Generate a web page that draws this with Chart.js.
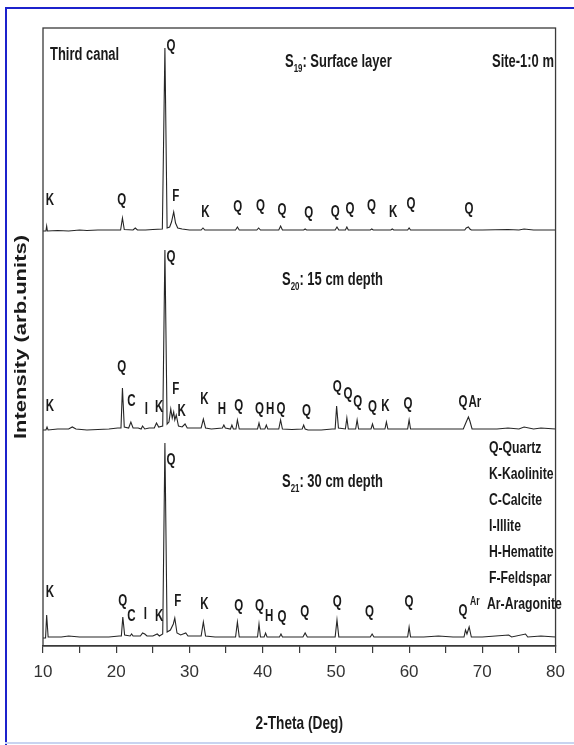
<!DOCTYPE html>
<html>
<head>
<meta charset="utf-8">
<script src="https://cdn.jsdelivr.net/npm/chart.js@4"></script>
<style>
  body { margin: 0; background: #fff; }
  #wrap { width: 574px; height: 745px; position: relative; }
</style>
</head>
<body>
<div id="wrap"><canvas id="myChart"></canvas></div>
<script>
// 2-theta (deg) and intensity (arb.) for each sample
var s19Theta = [10, 10.4, 10.5, 10.6, 12, 13.5, 15, 16, 17.5, 19, 20.6, 20.85, 21.1, 22.3, 22.6, 22.9, 24, 25, 26.3, 26.65, 26.95,
    27.3, 27.55, 27.85, 28.1, 28.4, 29, 30, 31.6, 31.85, 32.1, 34, 35, 36.3, 36.55, 36.8, 37, 39.2, 39.45, 39.7, 40.3,
    42.2, 42.45, 42.7, 44, 45.6, 45.8, 46, 48, 49.9, 50.15, 50.4, 50.9, 51.3, 51.5, 51.7, 53, 54.7, 54.9, 55.1,
    57.5, 57.7, 57.9, 59.8, 60, 60.2, 64, 66, 67.6, 67.8, 68.1, 68.3, 68.5, 70, 73.5, 75, 75.7, 77, 80];
var s19Counts = [0, 0, 5, 0, 0.5, 0, 1, 0.5, 1, 1, 1, 13, 1.5, 1, 3, 1, 1, 1.5, 2, 183, 3,
    4, 9, 19, 8, 3, 2, 1, 1, 3, 1, 1, 1, 1, 4, 1, 1, 1, 3, 1, 1,
    1, 5, 1, 1, 1, 2, 1, 1, 1, 4, 1, 1, 1, 4, 1, 1, 1, 2, 1,
    1, 2, 1, 1, 3, 1, 1, 1, 1, 3, 4, 2, 1, 1, 1.5, 1, 2, 1, 1];

var s20Theta = [10, 10.4, 10.55, 10.7, 12, 13.5, 14, 14.5, 16, 17.5, 19, 20.2, 20.65, 20.85, 21.1, 21.7, 22, 22.3, 23, 23.4,
    23.6, 23.9, 24.5, 25.2, 25.5, 25.8, 26.35, 26.65, 26.95, 27.2, 27.45, 27.65, 27.85, 28, 28.2, 28.5, 29, 29.4, 29.7,
    30.5, 31.6, 31.9, 32.2, 33, 34.5, 34.7, 34.9, 35.6, 35.8, 36, 36.35, 36.55, 36.8, 38, 39.3, 39.5, 39.7, 40.3, 40.5,
    40.7, 41.5, 42.2, 42.45, 42.7, 44, 45.4, 45.6, 45.8, 46.2, 48, 49.5, 49.9, 50.1, 50.35, 51.3, 51.5, 51.7, 52.7,
    52.9, 53.1, 54.8, 55, 55.2, 56.7, 56.9, 57.1, 58, 59.8, 60, 60.2, 62, 64, 65, 67.4, 67.8, 68.1, 68.3, 68.6, 70, 72,
    73.5, 75, 75.7, 77, 78, 80];
var s20Counts = [0, 0, 3, 0, 1, 1, 3, 1, 0, 0.5, 1, 2, 2, 42, 3, 2, 8, 2, 2, 1,
    4, 1, 2, 2, 7, 3, 4, 180, 6, 8, 21, 12, 18, 10, 15, 4, 3, 6, 2,
    2, 2, 11, 2, 1, 2, 5, 2, 1, 5, 1, 1, 10, 1, 1, 1, 7, 1, 1, 5,
    1, 1, 1, 10, 1, 0.5, 1, 5, 1, 0, 0, 1, 1, 24, 2, 1, 12, 1, 1,
    10, 1, 1, 6, 1, 1, 8, 1, 1, 1, 10, 1, 1, 1, 1, 1, 8, 13, 9, 1, 1, 1,
    2, 1, 3, 1, 2, 1];

var s21Theta = [10, 10.35, 10.5, 10.7, 11.5, 12.5, 13.5, 15, 17, 19, 20.4, 20.7, 20.9, 21.15, 21.9, 22.1, 22.3, 23.3, 23.6,
    23.9, 24.2, 25, 25.6, 25.9, 26.35, 26.65, 26.95, 27.4, 27.8, 28, 28.3, 28.8, 29.5, 29.8, 31, 31.6, 31.9, 32.2, 33.5,
    34, 35, 36.3, 36.55, 36.8, 38, 39.3, 39.5, 39.7, 40.2, 40.4, 40.6, 41, 42.3, 42.5, 42.7, 44, 45.5, 45.8, 46.1, 48,
    49.9, 50.15, 50.4, 51.5, 52.5, 54.7, 54.95, 55.2, 57, 59.8, 60, 60.2, 62, 64, 66, 67.5, 67.7, 67.9, 68.2, 68.5, 70,
    73.6, 74, 75.9, 76.2, 78, 80];
var s21Counts = [0, 0, 23, 1, 1, 1, 2, 1, 1, 1, 2, 2, 21, 3, 2, 4, 2, 2, 5,
    4, 2, 2, 4, 2, 4, 195, 6, 8, 14, 20, 5, 3, 5, 2, 2, 2, 16, 2, 1,
    1, 1, 1, 16, 1, 1, 1, 14, 1, 1, 5, 1, 1, 1, 4, 1, 1, 1, 5, 1, 1,
    1, 18, 1, 1, 1, 1, 4, 1, 1, 1, 11, 1, 1, 2, 1, 1, 8, 4, 11, 1, 1,
    3, 1, 4, 1, 2, 1];

// vertical stacking of the three patterns
var sampleOffsets = [407, 208, 0];

// peak labels: [2-theta, intensity level, phase]
var peakLabels = [
    [10.94, 437, 'K'], [20.75, 437, 'Q'], [27.47, 591, 'Q'], [28.14, 441, 'F'], [32.17, 425, 'K'], [36.6, 430, 'Q'],
    [39.7, 431, 'Q'], [42.65, 427, 'Q'], [46.28, 424, 'Q'], [49.9, 425, 'Q'], [51.92, 428, 'Q'], [54.87, 431, 'Q'],
    [57.83, 425, 'K'], [60.25, 433, 'Q'], [68.18, 428, 'Q'],
    [10.94, 231, 'K'], [20.75, 270, 'Q'], [22.09, 236, 'C'], [24.11, 228, 'I'], [25.85, 230, 'K'], [27.47, 380, 'Q'],
    [28.14, 248, 'F'], [28.94, 226, 'K'], [32.03, 238, 'K'], [34.45, 228, 'H'], [36.74, 231, 'Q'], [39.56, 228, 'Q'],
    [41.04, 228, 'H'], [42.51, 228, 'Q'], [46.0, 226, 'Q'], [50.17, 250, 'Q'], [51.65, 243, 'Q'], [52.99, 235, 'Q'],
    [55.0, 230, 'Q'], [56.76, 231, 'K'], [59.85, 233, 'Q'], [67.37, 235, 'Q'], [68.98, 235, 'Ar'],
    [10.94, 45, 'K'], [20.88, 36, 'Q'], [22.09, 21, 'C'], [23.97, 23, 'I'], [25.85, 21, 'K'], [27.47, 177, 'Q'],
    [28.41, 36, 'F'], [32.03, 33, 'K'], [36.74, 31, 'Q'], [39.56, 31, 'Q'], [40.9, 21, 'H'], [42.65, 20, 'Q'],
    [45.74, 25, 'Q'], [50.17, 35, 'Q'], [54.6, 25, 'Q'], [59.98, 35, 'Q'], [67.37, 26, 'Q']
];
var smallLabels = [[68.98, 36, 'Ar']];

var legendItems = ['Q-Quartz', 'K-Kaolinite', 'C-Calcite', 'I-Illite', 'H-Hematite', 'F-Feldspar', 'Ar-Aragonite'];

var FONT = "'Liberation Sans', Arial, sans-serif";
var SX = 0.72; // the figure is squeezed sideways

function makePoints(theta, counts, off) {
    return theta.map(function(t, i) { return { x: t, y: counts[i] + off }; });
}

function txt(ctx, s, x, y, size, align) {
    ctx.save();
    ctx.font = 'bold ' + size + 'px ' + FONT;
    ctx.textBaseline = 'middle';
    ctx.textAlign = align || 'left';
    ctx.translate(x, y);
    ctx.scale(SX, 1);
    ctx.fillText(s, 0, 0);
    ctx.restore();
    ctx.font = 'bold ' + size + 'px ' + FONT;
    return ctx.measureText(s).width * SX;
}

function subTitle(ctx, x, y, sub, rest) {
    var w = txt(ctx, 'S', x, y, 18);
    var w2 = txt(ctx, sub, x + w, y + 7, 11);
    txt(ctx, rest, x + w + w2, y, 18);
}

var decor = {
    id: 'decor',
    afterDraw: function(chart) {
        var ctx = chart.ctx, a = chart.chartArea;
        var xs = chart.scales.x, ys = chart.scales.y;
        ctx.save();
        // plot frame
        ctx.strokeStyle = '#3a3a3a';
        ctx.lineWidth = 1.3;
        ctx.strokeRect(a.left, a.top, a.right - a.left, a.bottom - a.top);
        // blue picture frame
        ctx.fillStyle = '#1c22cc';
        ctx.fillRect(5, 7, 569, 2);
        ctx.fillRect(5, 7, 2, 738);
        ctx.fillStyle = '#c8d4f0';
        ctx.fillRect(5, 742, 569, 2);

        ctx.fillStyle = '#1a1a1a';
        peakLabels.forEach(function(p) {
            txt(ctx, p[2], xs.getPixelForValue(p[0]), ys.getPixelForValue(p[1]), 16, 'center');
        });
        smallLabels.forEach(function(p) {
            txt(ctx, p[2], xs.getPixelForValue(p[0]), ys.getPixelForValue(p[1]), 12, 'center');
        });

        txt(ctx, 'Third canal', 50, 55, 18);
        txt(ctx, 'Site-1:0 m', 492, 62, 18);
        subTitle(ctx, 285, 62, '19', ': Surface layer');
        subTitle(ctx, 282, 280, '20', ': 15 cm depth');
        subTitle(ctx, 282, 482, '21', ': 30 cm depth');

        legendItems.forEach(function(s, i) {
            txt(ctx, s, i === 6 ? 487 : 489, 448 + i * 26, 17);
        });

        // axis titles
        txt(ctx, '2-Theta (Deg)', (a.left + a.right) / 2, 724, 19, 'center');
        ctx.save();
        ctx.translate(22, (a.top + a.bottom) / 2);
        ctx.rotate(-Math.PI / 2);
        ctx.scale(1, SX);
        ctx.font = 'bold 22px ' + FONT;
        ctx.textAlign = 'center';
        ctx.textBaseline = 'middle';
        ctx.fillText('Intensity (arb.units)', 0, 0);
        ctx.restore();
        ctx.restore();
    }
};

var lineStyle = { borderColor: '#262626', borderWidth: 1.1, pointRadius: 0, tension: 0, fill: false };

new Chart(document.getElementById('myChart').getContext('2d'), {
    type: 'line',
    data: {
        datasets: [
            Object.assign({ label: 'S19', data: makePoints(s19Theta, s19Counts, sampleOffsets[0]) }, lineStyle),
            Object.assign({ label: 'S20', data: makePoints(s20Theta, s20Counts, sampleOffsets[1]) }, lineStyle),
            Object.assign({ label: 'S21', data: makePoints(s21Theta, s21Counts, sampleOffsets[2]) }, lineStyle)
        ]
    },
    options: {
        responsive: true,
        maintainAspectRatio: false,
        animation: false,
        layout: { padding: { left: 43, right: 10, top: 28, bottom: 0 } },
        plugins: { legend: { display: false }, tooltip: { enabled: false } },
        scales: {
            x: {
                type: 'linear', min: 10, max: 80,
                afterFit: function(s) { s.height = 99; },
                ticks: {
                    stepSize: 5, padding: 9, color: '#333',
                    font: { family: "'Liberation Sans Narrow', 'Liberation Sans', Arial", size: 17 },
                    callback: function(v) { return v % 10 === 0 ? v : ''; },
                    maxRotation: 0, autoSkip: false
                },
                grid: { display: true, drawOnChartArea: false, drawTicks: true, tickLength: 7, color: '#3a3a3a', lineWidth: 1.2 },
                border: { display: true, color: '#3a3a3a', width: 1.3 }
            },
            y: { display: false, min: -8, max: 610 }
        }
    },
    plugins: [decor]
});
</script>
</body>
</html>
